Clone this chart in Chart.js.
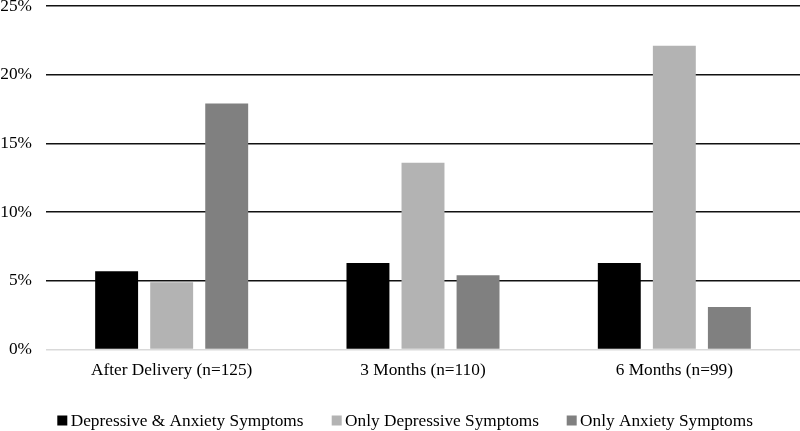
<!DOCTYPE html>
<html>
<head>
<meta charset="utf-8">
<script src="https://cdn.jsdelivr.net/npm/chart.js@4/dist/chart.umd.min.js"></script>
<style>
html,body{margin:0;padding:0;background:#fff;}
#wrap{width:800px;height:431px;position:relative;}
</style>
</head>
<body>
<div id="wrap"><canvas id="c" width="800" height="431"></canvas></div>
<script>
const categories = ["After Delivery (n=125)", "3 Months (n=110)", "6 Months (n=99)"];
const seriesNames = ["Depressive & Anxiety Symptoms", "Only Depressive Symptoms", "Only Anxiety Symptoms"];
const depressiveAnxiety = [5.7, 6.3, 6.3];
const onlyDepressive = [4.9, 13.6, 22.1];
const onlyAnxiety = [17.9, 5.4, 3.1];
const yTicks = [0, 5, 10, 15, 20, 25];

const FONT = "'Liberation Serif', 'Times New Roman', serif";
const FS = 17.3;

// Excel-style legend drawn on the canvas from the datasets
const excelLegend = {
  id: 'excelLegend',
  afterDraw(chart) {
    const ctx = chart.ctx;
    const boxLeft = [57.3, 331.7, 566.7];
    const box = 10, gap = 3.4, cy = 420.5;
    ctx.save();
    ctx.font = FS + 'px ' + FONT;
    ctx.textBaseline = 'middle';
    ctx.textAlign = 'left';
    chart.data.datasets.forEach((ds, i) => {
      const x = boxLeft[i];
      ctx.fillStyle = ds.backgroundColor;
      ctx.fillRect(x, cy - box / 2, box, box);
      ctx.fillStyle = '#000';
      ctx.fillText(ds.label, x + box + gap, cy + 1);
    });
    ctx.restore();
  }
};

new Chart(document.getElementById('c'), {
  type: 'bar',
  data: {
    labels: categories,
    datasets: [
      { label: seriesNames[0], data: depressiveAnxiety, backgroundColor: '#000000' },
      { label: seriesNames[1], data: onlyDepressive, backgroundColor: '#b3b3b3' },
      { label: seriesNames[2], data: onlyAnxiety, backgroundColor: '#808080' }
    ]
  },
  options: {
    responsive: false,
    animation: false,
    devicePixelRatio: 1,
    layout: { padding: { top: 6, right: 0, left: 0, bottom: 39.7 } },
    datasets: { bar: { categoryPercentage: 0.657, barPercentage: 0.78 } },
    plugins: {
      legend: { display: false },
      tooltip: { enabled: false }
    },
    scales: {
      x: {
        grid: { display: false, drawTicks: false },
        border: { display: false },
        ticks: { color: '#000', font: { family: FONT, size: FS }, padding: 10.5, maxRotation: 0 }
      },
      y: {
        min: 0, max: 25,
        afterBuildTicks(scale) { scale.ticks = yTicks.map(v => ({ value: v })); },
        afterFit(scale) { scale.width = 46; scale.paddingTop = 0; scale.paddingBottom = 0; },
        grid: {
          drawTicks: false,
          color: ctx => (ctx.tick && ctx.tick.value === 0) ? '#d9d9d9' : '#111111',
          lineWidth: 1.5
        },
        border: { display: false },
        ticks: {
          color: '#000', font: { family: FONT, size: FS }, padding: 14,
          callback: v => v + '%'
        }
      }
    }
  },
  plugins: [excelLegend]
});
</script>
</body>
</html>
